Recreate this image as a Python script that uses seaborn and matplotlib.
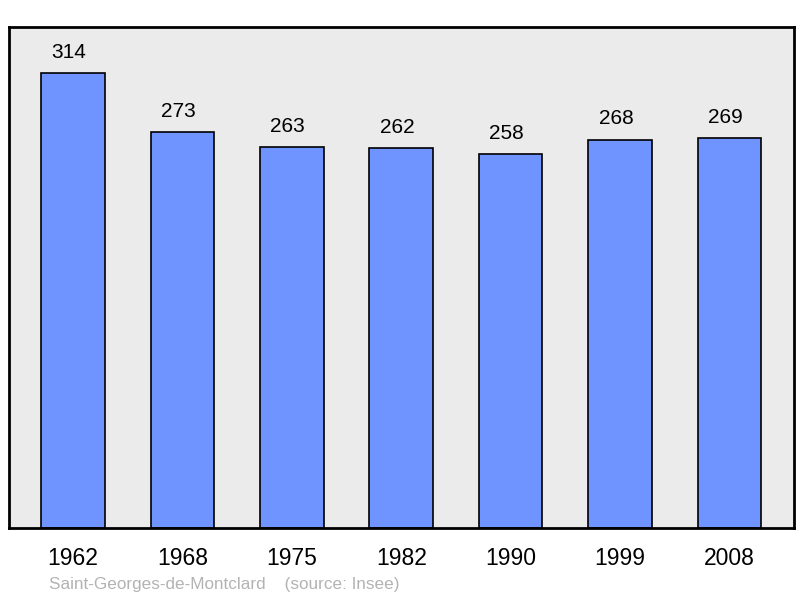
import matplotlib
matplotlib.use('Agg')
import matplotlib.pyplot as plt
import seaborn as sns

years = ['1962', '1968', '1975', '1982', '1990', '1999', '2008']
population = [314, 273, 263, 262, 258, 268, 269]
commune = 'Saint-Georges-de-Montclard'

sns.set_theme(style='white')
plt.rcParams['font.family'] = ['Liberation Sans', 'DejaVu Sans']

fig = plt.figure(figsize=(8, 5.98), dpi=100)
ax = fig.add_axes([9 / 800, 70 / 598, 785 / 800, 501 / 598])
ax.set_facecolor('#ebebeb')

sns.barplot(x=years, y=population, color='#7094ff', saturation=1,
            width=0.58, edgecolor='black', linewidth=1.2, ax=ax)

# value labels sit a touch left of the bar centre in the original
for i, v in enumerate(population):
    ax.annotate(str(v), (i, v), xytext=(-3, 8), textcoords='offset points',
                ha='center', va='bottom', fontsize=15, color='black')

ax.set_xlim(-0.585, 6.59)
ax.set_ylim(0, 345.7)
ax.set_yticks([])
ax.set_xlabel('')
ax.set_ylabel('')
ax.tick_params(axis='x', length=0, pad=14, labelsize=16.5, colors='black')
for s in ax.spines.values():
    s.set_visible(True)
    s.set_color('black')
    s.set_linewidth(2)

fig.text(49 / 800, 1 - 584 / 598, commune + '    (source: Insee)',
         fontsize=12.3, color='#b3b3b3', va='center', ha='left')

fig.savefig('out.png', dpi=100)
